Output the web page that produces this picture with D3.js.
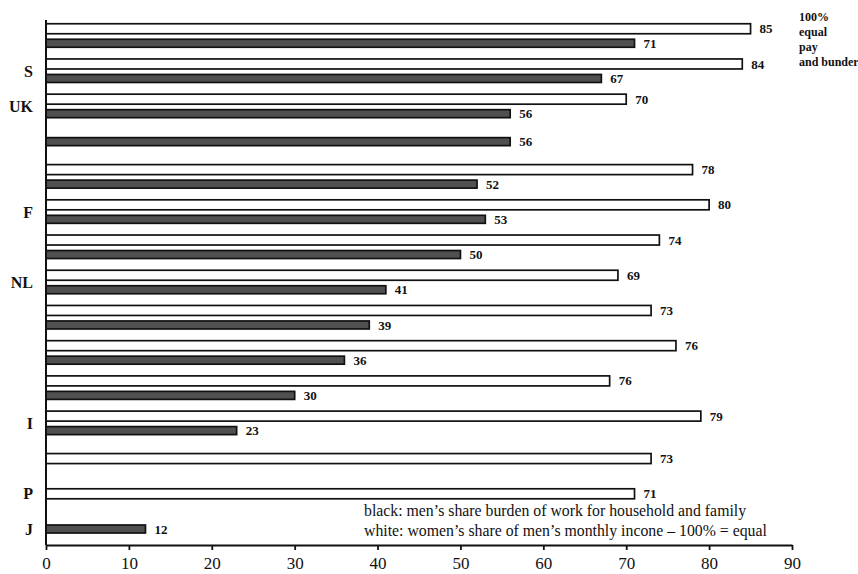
<!DOCTYPE html>
<html>
<head>
<meta charset="utf-8">
<script src="https://cdn.jsdelivr.net/npm/d3@7"></script>
<style>
  html, body { margin: 0; padding: 0; background: #fff; }
  svg { display: block; }
  text { font-family: "Liberation Serif", "DejaVu Serif", serif; fill: #111; }
</style>
</head>
<body>
<svg id="chart" width="858" height="574"></svg>
<script>
// ---- data ----
const countryLabels = ["", "S", "UK", "", "", "F", "", "NL", "", "", "", "I", "", "P", "J"];
// white bars: women's share of men's monthly income (bar lengths as drawn)
const incomeValues = [85, 84, 70, null, 78, 80, 74, 69, 73, 76, 68, 79, 73, 71, null];
// printed labels beside the white bars
const incomeLabels = ["85", "84", "70", null, "78", "80", "74", "69", "73", "76", "76", "79", "73", "71", null];
// dark bars: men's share of household and family work
const burdenValues = [71, 67, 56, 56, 52, 53, 50, 41, 39, 36, 30, 23, null, null, 12];
const burdenLabels = ["71", "67", "56", "56", "52", "53", "50", "41", "39", "36", "30", "23", null, null, "12"];
const xTicks = [0, 10, 20, 30, 40, 50, 60, 70, 80, 90];
const noteLines = ["100%", "equal", "pay", "and bunder"];
const legendLines = [
  "black: men\u2019s share burden of work for household and family",
  "white: women\u2019s share of men\u2019s monthly incone \u2013 100% = equal"
];

// ---- layout ----
const plot = { left: 46, right: 792, top: 20, bottom: 545 };
const svg = d3.select("#chart");

const x = d3.scaleLinear().domain([0, 90]).range([plot.left, plot.right]);
const y = d3.scalePoint().domain(d3.range(countryLabels.length)).range([36, 529]);
const sub = d3.scaleBand().domain(["income", "burden"]).range([-14.5, 14.5]);

// build bar records
const bars = [];
countryLabels.forEach((c, i) => {
  const hasI = incomeValues[i] != null, hasB = burdenValues[i] != null;
  const both = hasI && hasB;
  if (hasI) bars.push({ i, kind: "income", value: incomeValues[i], label: incomeLabels[i],
    cy: y(i) + (both ? sub("income") + sub.bandwidth() / 2 : 0) });
  if (hasB) bars.push({ i, kind: "burden", value: burdenValues[i], label: burdenLabels[i],
    cy: y(i) + (both ? sub("burden") + sub.bandwidth() / 2 : 0) });
});

const barH = { income: 10, burden: 8 };
const barFill = { income: "#ffffff", burden: "#505050" };

svg.append("g").selectAll("rect")
  .data(bars)
  .join("rect")
  .attr("x", x(0))
  .attr("y", d => d.cy - barH[d.kind] / 2)
  .attr("width", d => x(d.value) - x(0))
  .attr("height", d => barH[d.kind])
  .attr("fill", d => barFill[d.kind])
  .attr("stroke", "#111")
  .attr("stroke-width", 1.7);

svg.append("g").selectAll("text")
  .data(bars)
  .join("text")
  .attr("x", d => x(d.value) + 9)
  .attr("y", d => d.cy)
  .attr("dy", "0.35em")
  .attr("font-size", 13)
  .attr("font-weight", "bold")
  .text(d => d.label);

// country labels
svg.append("g").selectAll("text")
  .data(countryLabels.map((c, i) => ({ c, i })).filter(d => d.c))
  .join("text")
  .attr("x", 33)
  .attr("y", d => y(d.i))
  .attr("dy", "0.35em")
  .attr("text-anchor", "end")
  .attr("font-size", 16)
  .attr("font-weight", "bold")
  .text(d => d.c);

// y axis line
svg.append("line")
  .attr("x1", plot.left).attr("x2", plot.left)
  .attr("y1", plot.top).attr("y2", plot.bottom)
  .attr("stroke", "#111").attr("stroke-width", 2);

// x axis
const xAxis = svg.append("g")
  .attr("transform", `translate(0,${plot.bottom})`)
  .call(d3.axisBottom(x).tickValues(xTicks).tickSize(5).tickSizeOuter(0).tickPadding(7));
xAxis.select(".domain").attr("stroke", "#111").attr("stroke-width", 1.8);
xAxis.selectAll(".tick line").attr("stroke", "#111").attr("stroke-width", 1.8);
xAxis.selectAll(".tick text")
  .attr("font-family", "Liberation Serif, serif")
  .attr("font-size", 17)
  .attr("fill", "#111");

// top-right note
svg.append("g").selectAll("text")
  .data(noteLines)
  .join("text")
  .attr("x", 799)
  .attr("y", (d, k) => 21 + k * 15)
  .attr("font-size", 12)
  .attr("font-weight", "bold")
  .text(d => d);

// legend
svg.append("g").selectAll("text")
  .data(legendLines)
  .join("text")
  .attr("x", 364)
  .attr("y", (d, k) => 516 + k * 20)
  .attr("font-size", 15.8)
  .text(d => d);
</script>
</body>
</html>
